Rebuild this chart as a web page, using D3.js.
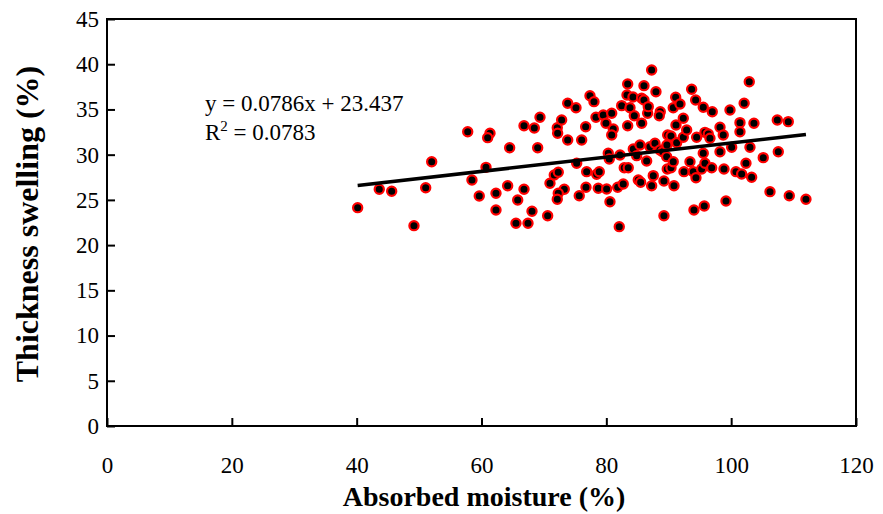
<!DOCTYPE html>
<html>
<head>
<meta charset="utf-8">
<script src="https://cdn.jsdelivr.net/npm/d3@7/dist/d3.min.js"></script>
<style>
  html, body { margin: 0; padding: 0; background: #fff; }
  svg { display: block; }
  text { font-family: "Liberation Serif", "Times New Roman", serif; fill: #000; }
</style>
</head>
<body>
<svg id="chart" width="883" height="514"></svg>
<script>
// Absorbed moisture (%)
const moisture = [
  40.16, 43.62, 45.61, 49.18, 51.06, 52.02, 57.79, 58.47, 59.64, 60.72,
  61.36, 60.99, 62.32, 62.32, 64.19, 64.51, 65.80, 65.52, 66.81, 66.81,
  67.45, 68.09, 68.46, 69.00, 69.37, 70.60, 70.97, 71.66, 72.30, 72.14,
  72.20, 72.84, 73.26, 72.30, 72.14, 73.81, 75.14, 73.81, 75.25, 75.66,
  76.05, 76.69, 76.74, 76.85, 77.38, 78.02, 78.34, 78.45, 78.87, 78.71,
  79.51, 79.94, 80.05, 80.31, 80.47, 80.58, 80.86, 81.11, 80.86, 81.82,
  82.07, 82.19, 82.46, 82.71, 82.87, 83.42, 83.31, 84.27, 83.42, 83.51,
  83.79, 84.32, 84.48, 84.86, 85.12, 85.50, 85.39, 85.66, 86.03, 86.03,
  85.66, 86.46, 86.62, 86.72, 86.99, 87.26, 87.26, 87.52, 87.79, 87.95,
  88.64, 88.48, 88.59, 89.03, 89.23, 89.23, 89.67, 89.76, 89.83, 89.71,
  90.36, 90.36, 90.72, 90.72, 90.84, 91.11, 91.16, 91.27, 91.80, 92.33,
  92.33, 92.44, 92.87, 93.40, 93.67, 93.93, 94.04, 94.31, 94.36, 94.47,
  95.27, 95.53, 95.53, 95.69, 95.80, 95.80, 96.33, 96.60, 96.88, 96.97,
  98.21, 98.21, 98.73, 98.85, 99.17, 99.81, 100.08, 100.77, 101.41, 101.41,
  101.68, 102.08, 102.37, 102.90, 103.01, 103.28, 103.65, 105.14, 106.22, 107.39,
  107.55, 109.15, 109.31, 111.98
];
// Thickness swelling (%)
const swelling = [
  24.14, 26.17, 25.95, 22.15, 26.35, 29.22, 32.54, 27.20, 25.43, 28.60,
  32.36, 31.88, 25.73, 23.88, 26.57, 30.77, 24.99, 22.41, 26.17, 33.20,
  22.41, 23.74, 32.95, 30.77, 34.13, 23.25, 26.84, 27.75, 28.05, 32.98,
  32.36, 33.83, 26.17, 25.73, 25.07, 35.68, 35.19, 31.62, 29.05, 25.46,
  31.62, 33.09, 26.39, 28.12, 36.52, 35.86, 34.13, 27.83, 28.12, 26.28,
  34.39, 33.47, 26.21, 30.15, 29.52, 24.80, 34.58, 32.84, 32.18, 26.39,
  22.04, 29.96, 35.42, 26.76, 28.56, 37.82, 36.60, 36.38, 33.20, 28.56,
  35.19, 30.63, 34.31, 29.89, 27.20, 26.95, 31.07, 36.23, 36.05, 37.63,
  33.47, 29.30, 34.58, 35.31, 30.88, 39.36, 26.57, 27.68, 31.26, 36.96,
  34.75, 34.31, 30.52, 30.33, 27.09, 23.25, 29.78, 28.42, 32.18, 31.07,
  28.56, 32.07, 35.19, 29.22, 26.57, 36.34, 33.28, 31.33, 35.60, 34.02,
  31.92, 28.12, 32.73, 29.22, 37.23, 28.12, 23.88, 36.05, 27.45, 31.92,
  28.42, 35.24, 30.15, 24.33, 29.05, 32.47, 32.29, 31.81, 28.56, 34.75,
  33.03, 30.33, 32.18, 28.42, 24.88, 34.94, 30.82, 28.12, 33.54, 32.54,
  27.86, 35.68, 29.05, 38.07, 30.82, 27.50, 33.47, 29.67, 25.91, 33.83,
  30.33, 33.65, 25.46, 25.07
];
const xTicks = [0, 20, 40, 60, 80, 100, 120];
const yTicks = [0, 5, 10, 15, 20, 25, 30, 35, 40, 45];
const slope = 0.0786, intercept = 23.437;
const eqLine1 = "y = 0.0786x + 23.437";
const eqR2 = "0.0783";
const xTitle = "Absorbed moisture (%)";
const yTitle = "Thickness swelling (%)";

const svg = d3.select("#chart");
const L = 107, R = 856, T = 19, B = 426;
const x = d3.scaleLinear().domain([0, 120]).range([L, R]);
const y = d3.scaleLinear().domain([0, 45]).range([B, T]);

// frame
svg.append("rect").attr("x", L).attr("y", T).attr("width", R - L).attr("height", B - T)
  .attr("fill", "none").attr("stroke", "#000").attr("stroke-width", 2);

// axes with inward ticks
const xAxis = svg.append("g").attr("transform", `translate(0,${B})`)
  .call(d3.axisBottom(x).tickValues(xTicks).tickSize(-8).tickPadding(31).tickFormat(d3.format("d")));
const yAxis = svg.append("g").attr("transform", `translate(${L},0)`)
  .call(d3.axisLeft(y).tickValues(yTicks).tickSize(-8).tickPadding(8).tickFormat(d3.format("d")));
[xAxis, yAxis].forEach(g => {
  g.attr("font-size", 23).attr("font-family", "Liberation Serif");
  g.select(".domain").remove();
  g.selectAll(".tick line").attr("stroke", "#000").attr("stroke-width", 2);
  g.selectAll(".tick text").attr("font-size", 23).attr("fill", "#000");
});

// points
const pts = moisture.map((m, i) => ({ m, s: swelling[i] }));
svg.append("g").selectAll("circle").data(pts).join("circle")
  .attr("cx", d => x(d.m)).attr("cy", d => y(d.s)).attr("r", 4.6)
  .attr("fill", "#000").attr("stroke", "#ff0000").attr("stroke-width", 2.2);

// trendline
const xe = d3.extent(moisture);
svg.append("line")
  .attr("x1", x(xe[0])).attr("y1", y(slope * xe[0] + intercept))
  .attr("x2", x(xe[1])).attr("y2", y(slope * xe[1] + intercept))
  .attr("stroke", "#000").attr("stroke-width", 3.5);

// equation
svg.append("text").attr("x", 205).attr("y", 111).attr("font-size", 23).text(eqLine1);
const r2 = svg.append("text").attr("x", 205).attr("y", 140).attr("font-size", 23);
r2.append("tspan").text("R");
r2.append("tspan").attr("font-size", 15).attr("dy", -9).text("2");
r2.append("tspan").attr("dy", 9).text(" = " + eqR2);

// titles
svg.append("text").attr("x", 484).attr("y", 506).attr("text-anchor", "middle")
  .attr("font-size", 28).attr("font-weight", "bold").text(xTitle);
svg.append("text").attr("transform", `translate(38,224) rotate(-90)`)
  .attr("text-anchor", "middle").attr("font-size", 32).attr("font-weight", "bold").text(yTitle);
</script>
</body>
</html>
